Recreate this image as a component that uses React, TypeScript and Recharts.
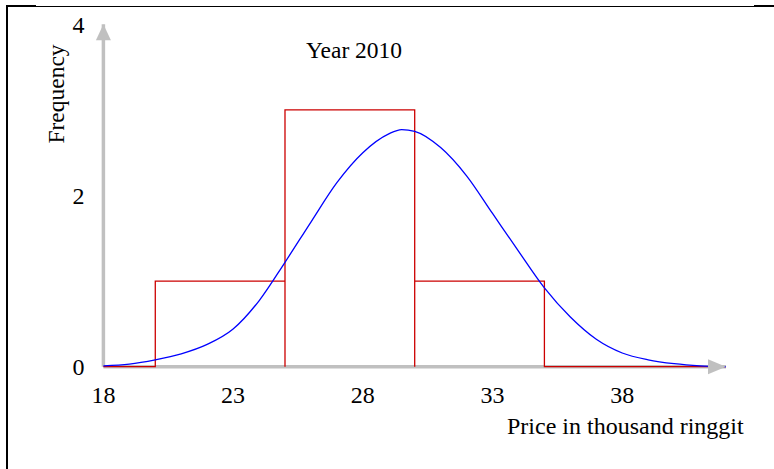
import React from "react";
import { Line, LineChart, XAxis, YAxis } from "recharts";

// axis ticks
const priceTicks = [18, 23, 28, 33, 38];
const freqTicks = [0, 2, 4];
const priceRange = [18, 42];
const freqRange = [0, 4];

// histogram: bin left edges, bin width and frequencies
const binEdges = [20, 25, 30];
const binWidth = 5;
const binFreqs = [1, 3, 1];

// fitted curve
const curveX = [18, 19, 20, 21, 22, 23, 24, 25, 26, 27, 28, 29, 29.5, 30, 31, 32, 33, 34, 35, 36, 37, 38, 39, 40, 41, 42];
const curveY = [0.01, 0.03, 0.08, 0.15, 0.26, 0.44, 0.77, 1.22, 1.69, 2.15, 2.5, 2.72, 2.77, 2.75, 2.56, 2.23, 1.79, 1.35, 0.92, 0.58, 0.32, 0.16, 0.08, 0.035, 0.01, 0];

const curveData = curveX.map((x, i) => ({ x, y: curveY[i] }));

// outline of the histogram boxes, as one polyline
const histData: { x: number; y: number }[] = [{ x: priceRange[0], y: 0 }];
binEdges.forEach((left, i) => {
  histData.push({ x: left, y: 0 }, { x: left, y: binFreqs[i] }, { x: left + binWidth, y: binFreqs[i] });
});
histData.push({ x: binEdges[binEdges.length - 1] + binWidth, y: 0 }, { x: priceRange[1], y: 0 });

const xAxisData = [
  { x: priceRange[0], y: 0 },
  { x: priceRange[1], y: 0 },
];
const yAxisData = [
  { x: priceRange[0], y: freqRange[0] },
  { x: priceRange[0], y: freqRange[1] },
];

const GREY = "#c0c0c0";
const FONT = "'Liberation Serif', 'Times New Roman', serif";

function ArrowRight(props: any) {
  const { cx, cy, index } = props;
  if (index !== 1) return <g key={`ar-${index}`} />;
  return <polygon key={`ar-${index}`} points={`${cx},${cy} ${cx - 18},${cy - 7.5} ${cx - 18},${cy + 7.5}`} fill={GREY} />;
}

function ArrowUp(props: any) {
  const { cx, cy, index } = props;
  if (index !== 1) return <g key={`au-${index}`} />;
  return <polygon key={`au-${index}`} points={`${cx},${cy} ${cx - 7.5},${cy + 16} ${cx + 7.5},${cy + 16}`} fill={GREY} />;
}

function PriceTick({ x, y, payload }: any) {
  return (
    <text x={x} y={y} dy="0.71em" textAnchor="middle" fill="#000" fontSize={24} fontFamily={FONT}>
      {payload.value}
    </text>
  );
}

function FreqTick({ x, y, payload }: any) {
  return (
    <text x={x} y={y} dy="0.355em" textAnchor="end" fill="#000" fontSize={24} fontFamily={FONT}>
      {payload.value}
    </text>
  );
}

export default function App() {
  return (
    <div
      style={{
        position: "absolute",
        left: 0,
        top: 0,
        width: 774,
        height: 469,
        background: "#fff",
        fontFamily: FONT,
        overflow: "hidden",
      }}
    >
      {/* page frame */}
      <div style={{ position: "absolute", left: 6, top: 5, width: 2, height: 464, background: "#000" }} />
      <div style={{ position: "absolute", left: 6, top: 5.5, width: 768, height: 1.3, background: "#000" }} />
      <div style={{ position: "absolute", left: 6, top: 5, width: 30, height: 2.3, background: "#000" }} />
      <div style={{ position: "absolute", left: 754, top: 5, width: 20, height: 2.3, background: "#000" }} />

      <LineChart width={774} height={469} margin={{ top: 24.3, right: 48, bottom: 42.3, left: 43.4 }}>
        <XAxis
          dataKey="x"
          type="number"
          domain={priceRange}
          ticks={priceTicks}
          interval={0}
          axisLine={false}
          tickLine={false}
          tickMargin={13}
          height={60}
          tick={<PriceTick />}
          allowDuplicatedCategory
        />
        <YAxis
          dataKey="y"
          type="number"
          domain={freqRange}
          ticks={freqTicks}
          interval={0}
          axisLine={false}
          tickLine={false}
          tickMargin={13}
          width={60}
          tick={<FreqTick />}
        />
        <Line data={xAxisData} dataKey="y" type="linear" stroke={GREY} strokeWidth={3.5} dot={ArrowRight} activeDot={false} isAnimationActive={false} />
        <Line data={yAxisData} dataKey="y" type="linear" stroke={GREY} strokeWidth={3.5} dot={ArrowUp} activeDot={false} isAnimationActive={false} />
        <Line data={histData} dataKey="y" type="linear" stroke="#cc0000" strokeWidth={1.3} dot={false} activeDot={false} isAnimationActive={false} />
        <Line data={curveData} dataKey="y" type="monotone" stroke="#0000ff" strokeWidth={1.3} dot={false} activeDot={false} isAnimationActive={false} />
      </LineChart>

      <div style={{ position: "absolute", left: 354, top: 50.5, transform: "translate(-50%, -50%)", fontSize: 23.5, lineHeight: 1, whiteSpace: "nowrap" }}>
        Year 2010
      </div>
      <div
        style={{
          position: "absolute",
          left: 57,
          top: 94,
          transform: "translate(-50%, -50%) rotate(-90deg)",
          fontSize: 23.5,
          lineHeight: 1,
          whiteSpace: "nowrap",
        }}
      >
        Frequency
      </div>
      <div style={{ position: "absolute", left: 507, top: 426, transform: "translateY(-50%)", fontSize: 24, lineHeight: 1, whiteSpace: "nowrap" }}>
        Price in thousand ringgit
      </div>
    </div>
  );
}
